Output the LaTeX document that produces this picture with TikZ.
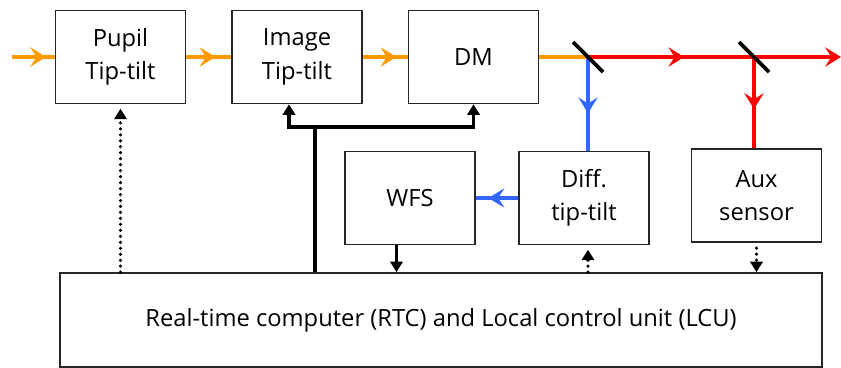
\documentclass[tikz,border=0pt]{standalone}
\usepackage{fontspec}
\setmainfont{Open Sans}
\usetikzlibrary{arrows.meta,decorations.markings}

\definecolor{beamor}{RGB}{255,153,0}
\definecolor{beamred}{RGB}{255,0,0}
\definecolor{beamblue}{RGB}{51,102,255}

\begin{document}
\begin{tikzpicture}[
  box/.style={draw=black!85, line width=0.9pt, minimum width=2.6cm, minimum height=1.86cm,
    inner sep=0pt, align=center, font=\fontsize{13.5}{19}\selectfont},
  beam/.style={line width=2.2pt},
  midarrow/.style={postaction={decorate, decoration={markings,
    mark=at position #1 with {\arrow{Stealth[length=9pt,width=11pt,inset=3.5pt]}}}}},
  tip/.style={-{Triangle[length=6pt,width=7pt]}},
  ctrl/.style={tip, line width=2.2pt},
  dots/.style={tip, line width=2pt, dash pattern=on 0pt off 3.4pt, line cap=round},
  mirror/.style={line width=2.2pt, line cap=butt}
]
\useasboundingbox (0,0) rectangle (16.82,-7.36);

% optical train
\node[box] (pupil) at (2.41,-1.14) {Pupil\\Tip-tilt};
\node[box] (image) at (5.94,-1.14) {Image\\Tip-tilt};
\node[box] (dm) at (9.47,-1.14) {DM};

% sensors
\node[box] (wfs) at (8.20,-3.96) {WFS};
\node[box] (diff) at (11.68,-3.96) {Diff.\\tip-tilt};
\node[box] (aux) at (15.13,-3.91) {Aux\\sensor};

\node[box, minimum width=15.24cm, minimum height=1.88cm] (rtc) at (8.82,-6.40)
  {Real-time computer (RTC) and Local control unit (LCU)};

\coordinate (in) at (0.24,-1.14);
\coordinate (m1) at (11.76,-1.14);
\coordinate (m2) at (15.08,-1.14);
\coordinate (out) at (16.82,-1.14);

% beams
\draw[beam, beamor, midarrow=0.8] (in) -- (pupil);
\draw[beam, beamor, midarrow=0.65] (pupil) -- (image);
\draw[beam, beamor, midarrow=0.75] (image) -- (dm);
\draw[beam, beamor] (dm) -- (m1);
\draw[beam, beamred, midarrow=0.58] (m1) -- (m2);
\draw[beam, beamred, -{Stealth[length=9pt,width=11pt,inset=3.5pt]}] (m2) -- (out);
\draw[beam, beamblue, midarrow=0.6] (m1) -- (m1 |- diff.north);
\draw[beam, beamred, midarrow=0.57] (m2) -- (m2 |- aux.north);
\draw[beam, beamblue, midarrow=0.7] (diff.west) -- (wfs.east);

% beam splitters
\draw[mirror] (m1) ++(-0.3,0.3) -- ++(0.6,-0.6);
\draw[mirror] (m2) ++(-0.3,0.3) -- ++(0.6,-0.6);

% control lines
\coordinate (jn) at (6.30,-2.54);
\draw[line width=2.2pt] (jn |- rtc.north) -- (jn);
\draw[ctrl] (jn) -| ([xshift=-0.16cm]image.south);
\draw[ctrl] (jn) -| (dm.south);
\draw[dots, shorten >=2.5pt] (pupil.south |- rtc.north) -- (pupil.south);
\draw[tip, line width=1.4pt] ([xshift=-0.27cm]wfs.south) -- ([xshift=-0.27cm]wfs.south |- rtc.north);
\draw[dots, shorten >=2.5pt] (m1 |- rtc.north) -- (m1 |- diff.south);
\draw[dots, shorten <=3pt] (aux.south) -- (aux.south |- rtc.north);
\end{tikzpicture}
\end{document}
